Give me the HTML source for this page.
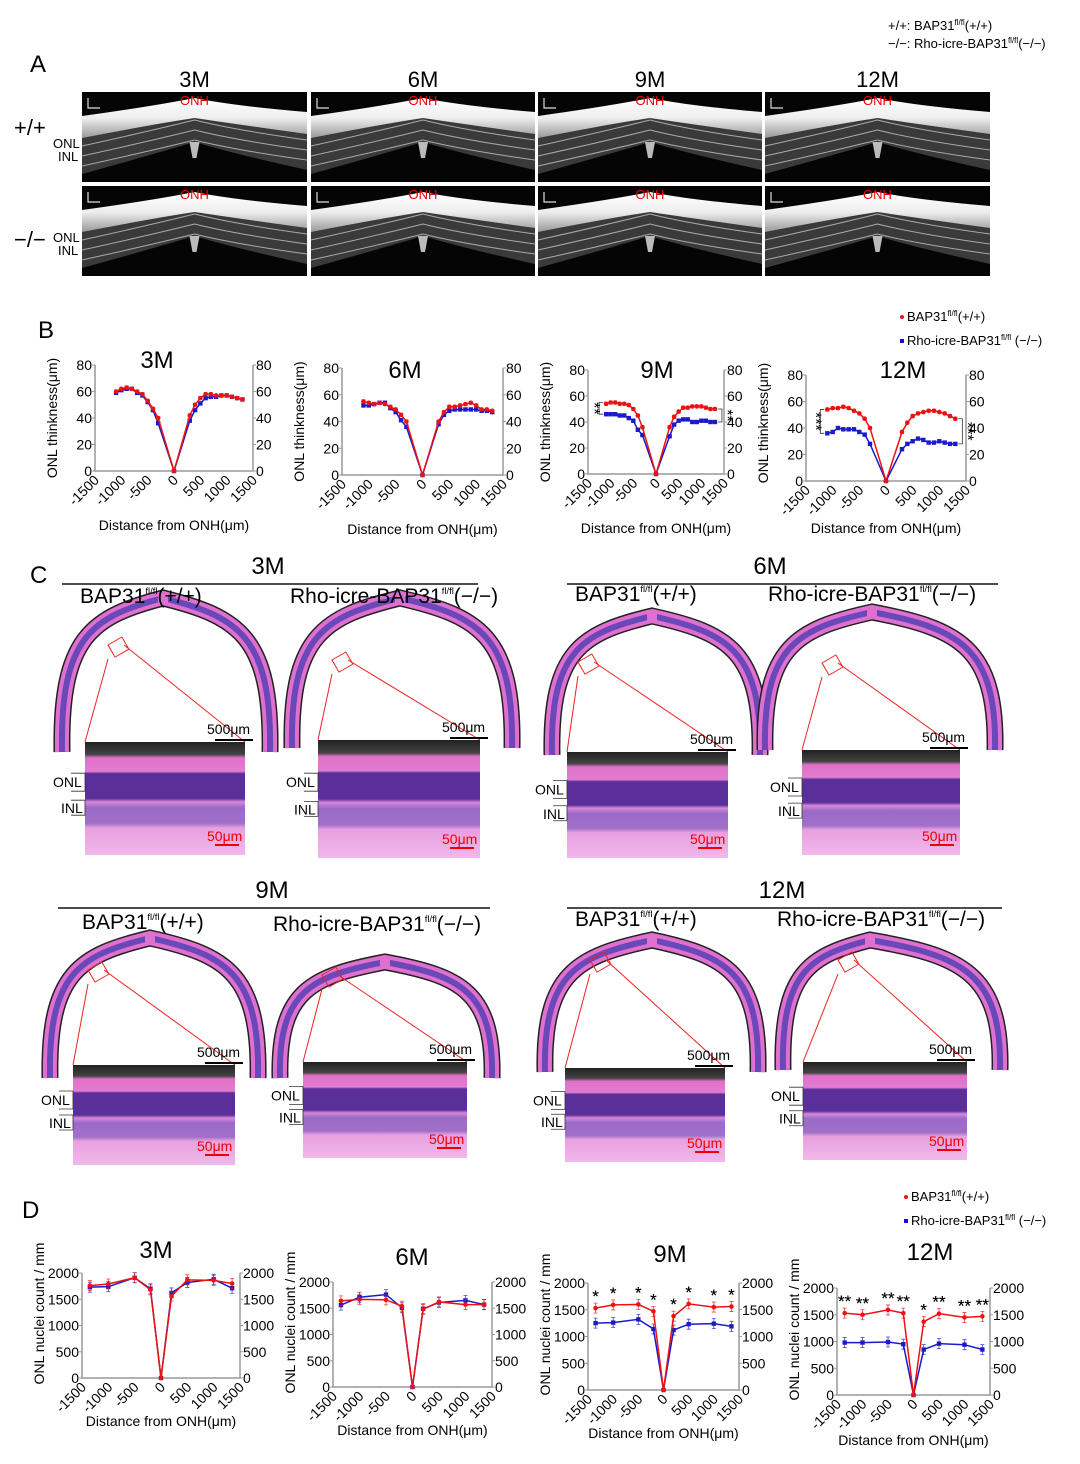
<!DOCTYPE html>
<html><head><meta charset="utf-8"><style>
html,body{margin:0;padding:0;background:#fff;}
svg{display:block;font-family:"Liberation Sans",Arial,sans-serif;}
</style></head><body>
<svg id="fig" xmlns="http://www.w3.org/2000/svg" width="1080" height="1464" viewBox="0 0 1080 1464">
<defs>
<linearGradient id="octband" x1="0" y1="0" x2="0" y2="1">
<stop offset="0" stop-color="#fff"/><stop offset="0.5" stop-color="#eee"/><stop offset="1" stop-color="#999"/></linearGradient>
<linearGradient id="inset" x1="0" y1="0" x2="0" y2="1">
<stop offset="0" stop-color="#222"/><stop offset="0.11" stop-color="#444"/><stop offset="0.14" stop-color="#e070c8"/>
<stop offset="0.26" stop-color="#e27cd0"/><stop offset="0.28" stop-color="#5a2f9a"/><stop offset="0.5" stop-color="#5a2f9a"/>
<stop offset="0.53" stop-color="#d888d8"/><stop offset="0.58" stop-color="#9a6ac8"/><stop offset="0.72" stop-color="#a070c8"/>
<stop offset="0.76" stop-color="#e8a0e0"/><stop offset="1" stop-color="#f0b8ea"/></linearGradient>
</defs>

<g font-size="13">
<text x="888" y="30">+/+: BAP31<tspan font-size="8" dy="-5">fl/fl</tspan><tspan dy="5">(+/+)</tspan></text>
<text x="888" y="48">−/−: Rho-icre-BAP31<tspan font-size="8" dy="-5">fl/fl</tspan><tspan dy="5">(−/−)</tspan></text>
</g>

<g font-size="24">
<text x="30" y="72">A</text><text x="38" y="338">B</text><text x="30" y="583">C</text><text x="22" y="1218">D</text>
</g>
<g id="panelA"></g>
<g id="panelC"></g>
<g id="panelB"></g>
<g id="panelD"></g>
</svg>
<script>
// ---------- Chart data ----------
const bX = [-1100,-1000,-900,-800,-700,-600,-500,-400,-300,0,300,400,500,600,700,800,900,1000,1100,1200,1300];
const b3Red  = [60,62,63,62,60,58,53,47,40,0,42,50,55,58,58,57,57,57,56,55,54];
const b3Blue = [59,61,62,62,59,57,52,46,36,0,38,46,51,55,56,56,57,57,56,55,54];
const b6Red  = [55,54,53,54,53,51,49,45,40,0,40,47,51,51,52,53,54,52,49,49,48];
const b6Blue = [52,52,53,54,54,50,47,41,36,0,38,45,48,49,49,49,49,49,48,48,47];
const b9Red  = [54,55,55,54,54,53,50,45,36,0,36,44,48,51,51,52,52,52,51,50,50];
const b9Blue = [46,46,46,45,45,43,41,34,30,0,29,38,41,42,42,40,40,41,41,40,40];
const b12Red = [54,55,55,56,55,53,51,47,40,0,37,44,49,51,52,53,53,52,51,49,47];
const b12Blue= [36,37,40,39,39,39,37,35,28,0,24,28,30,32,31,29,29,30,29,28,28];
const bYTicks = [0,20,40,60,80];
const xTicks = [-1500,-1000,-500,0,500,1000,1500];
const dX = [-1350,-1000,-500,-200,0,200,500,1000,1350];
const d3Red  = [1760,1790,1910,1680,0,1560,1870,1860,1800];
const d3Blue = [1730,1740,1910,1700,0,1620,1820,1880,1710];
const d6Red  = [1640,1670,1660,1540,0,1480,1620,1570,1570];
const d6Blue = [1560,1710,1760,1510,0,1490,1610,1650,1570];
const d9Red  = [1530,1590,1600,1470,0,1380,1610,1550,1560];
const d9Blue = [1250,1260,1320,1140,0,1120,1230,1240,1190];
const d12Red = [1530,1500,1590,1530,0,1370,1520,1450,1470];
const d12Blue= [980,980,990,950,0,850,960,940,850];
const dYTicks = [0,500,1000,1500,2000];
const d9Stars = ['*','*','*','*','','*','*','*','*'];
const d12Stars = ['**','**','**','**','','*','**','**','**'];

const NS='http://www.w3.org/2000/svg';
function mk(parent,tag,attrs,txt){const e=document.createElementNS(NS,tag);for(const k in attrs)e.setAttribute(k,attrs[k]);if(txt!==undefined)e.textContent=txt;parent.appendChild(e);return e;}

function chart(parent,c,xs,red,blue,yt,yTitle,title,stars){
  const g=mk(parent,'g',{});
  
  
  const ymax=yt[yt.length-1];
  const X=v=>c.l+(v+1500)/3000*(c.r-c.l);
  const Y=v=>c.y0-v/ymax*(c.y0-c.yt);
  const ax=mk(g,'path',{d:`M${c.l},${c.yt}V${c.y0}H${c.r}V${c.yt}`,fill:'none',stroke:'#999','stroke-width':1.5});
  
  
  yt.forEach(t=>{
    mk(g,'line',{x1:c.l-3,x2:c.l,y1:Y(t),y2:Y(t),stroke:'#999'});
    mk(g,'line',{x1:c.r,x2:c.r+3,y1:Y(t),y2:Y(t),stroke:'#999'});
    const a=mk(g,'text',{x:c.l-3,y:Y(t)+5,'text-anchor':'end','font-size':14},t);
    
    
    const b=mk(g,'text',{x:c.r+3,y:Y(t)+5,'font-size':14},t);
    
    
  });
  xTicks.forEach(t=>{
    const x=X(t);
    const a=mk(g,'text',{x:x+5,y:c.y0+10,'text-anchor':'end','font-size':14,transform:`rotate(-45 ${x+5} ${c.y0+10})`},t);
    
    
  });
  const xt=mk(g,'text',{x:(c.l+c.r)/2,y:c.y0+c.xtOff,'text-anchor':'middle','font-size':14},'Distance from ONH(μm)');
  
  
  const yy=(c.y0+c.yt)/2+c.ytShift;
  const ytl=mk(g,'text',{x:c.l-38,y:yy,'text-anchor':'middle','font-size':14,transform:`rotate(-90 ${c.l-38} ${yy})`},yTitle);
  
  
  const tt=mk(g,'text',{x:c.tx,y:c.ty,'text-anchor':'middle','font-size':24},title);
  
  
  [[blue,'#1a1acc','sq'],[red,'#ee1111','ci']].forEach(([vals,col,m])=>{
    const ln=mk(g,'polyline',{points:xs.map((v,i)=>X(v)+','+Y(vals[i])).join(' '),fill:'none',stroke:col,'stroke-width':1.5});
    
    
    xs.forEach((v,i)=>{
      const x=X(v),y=Y(vals[i]);
      if(vals[i]>0){
        mk(g,'path',{d:`M${x},${y-c.err}V${y+c.err}M${x-2},${y-c.err}h4M${x-2},${y+c.err}h4`,stroke:col,'stroke-width':0.8,opacity:0.8});}
      const p=m==='sq'?mk(g,'rect',{x:x-2.2,y:y-2.2,width:4.4,height:4.4,fill:col}):mk(g,'circle',{cx:x,cy:y,r:2.3,fill:col});
      
      
      if(stars&&stars[i]){const s=mk(g,'text',{x:x,y:Y(red[i])-c.err-1,'text-anchor':'middle','font-size':17},stars[i]);
        
        }
    });
  });
  return {g,X,Y};
}
function sideStars(g,x,y1,y2,txt,side){
  mk(g,'path',{d:`M${x},${y1}h${side*4}V${y2}h${-side*4}`,fill:'none',stroke:'#333','stroke-width':0.8});
  const tx=x+side*9, ty=(y1+y2)/2;
  const s=mk(g,'text',{x:tx,y:ty,'text-anchor':'middle','font-size':16,transform:`rotate(90 ${tx} ${ty})`,dy:5},txt);
  
  
}
function legend(parent,x,y){
  const g=mk(parent,'g',{'font-size':13});
  
  
  mk(g,'circle',{cx:x,cy:y-4,r:2,fill:'#e11'});
  const t1=mk(g,'text',{x:x+5,y:y});t1.innerHTML='BAP31<tspan font-size="8" dy="-5">fl/fl</tspan><tspan dy="5">(+/+)</tspan>';
  mk(g,'rect',{x:x-2,y:y+18,width:4,height:4,fill:'#11c'});
  const t2=mk(g,'text',{x:x+5,y:y+24});t2.innerHTML='Rho-icre-BAP31<tspan font-size="8" dy="-5">fl/fl</tspan><tspan dy="5"> (−/−)</tspan>';
}

const B=document.getElementById('panelB');
const yB='ONL thinkness(μm)';
chart(B,{name:'b-3m',l:95,r:253,y0:471,yt:365,tx:157,ty:368,xtOff:59,ytShift:0,err:1.5},bX,b3Red,b3Blue,bYTicks,yB,'3M');
chart(B,{name:'b-6m',l:342,r:503,y0:475,yt:368,tx:405,ty:378,xtOff:59,ytShift:0,err:1.5},bX,b6Red,b6Blue,bYTicks,yB,'6M');
const c9=chart(B,{name:'b-9m',l:588,r:724,y0:474,yt:370,tx:657,ty:378,xtOff:59,ytShift:0,err:1.5},bX,b9Red,b9Blue,bYTicks,yB,'9M');
sideStars(c9.g,c9.X(-1100)-3,c9.Y(55),c9.Y(46),'**',-1);
sideStars(c9.g,c9.X(1300)+3,c9.Y(50),c9.Y(40),'**',1);
const c12=chart(B,{name:'b-12m',l:806,r:966,y0:481,yt:375,tx:903,ty:378,xtOff:52,ytShift:-5,err:1.5},bX,b12Red,b12Blue,bYTicks,yB,'12M');
sideStars(c12.g,c12.X(-1100)-3,c12.Y(54),c12.Y(36),'***',-1);
sideStars(c12.g,c12.X(1300)+3,c12.Y(47),c12.Y(28),'***',1);
legend(B,902,321);

const D=document.getElementById('panelD');
const yD='ONL nuclei count / mm';
chart(D,{name:'d-3m',l:82,r:240,y0:1378,yt:1273,tx:156,ty:1258,xtOff:48,ytShift:-12,err:5},dX,d3Red,d3Blue,dYTicks,yD,'3M');
chart(D,{name:'d-6m',l:333,r:492,y0:1387,yt:1282,tx:412,ty:1265,xtOff:48,ytShift:-12,err:5},dX,d6Red,d6Blue,dYTicks,yD,'6M');
chart(D,{name:'d-9m',l:588,r:739,y0:1390,yt:1283,tx:670,ty:1262,xtOff:48,ytShift:-12,err:5},dX,d9Red,d9Blue,dYTicks,yD,'9M',d9Stars);
chart(D,{name:'d-12m',l:837,r:990,y0:1395,yt:1288,tx:930,ty:1260,xtOff:50,ytShift:-12,err:5},dX,d12Red,d12Blue,dYTicks,yD,'12M',d12Stars);
legend(D,906,1201);

// ---------- Panel A (OCT images) ----------
const A=document.getElementById('panelA');
const cols=[[82,307,'3M'],[311,535,'6M'],[538,762,'9M'],[765,990,'12M']];
const rows=[92,186];
cols.forEach(([x1,x2,lab],ci)=>{
  const t=mk(A,'text',{x:(x1+x2)/2,y:87,'text-anchor':'middle','font-size':22},lab);
  
  
  rows.forEach((y,ri)=>{
    const g=mk(A,'g',{});
    
    
    const w=x2-x1,h=90,cx=x1+w/2;
    mk(g,'rect',{x:x1,y:y,width:w,height:h,fill:'#050505'});
    mk(g,'path',{d:`M${x1},${y+44}Q${cx-40},${y+30} ${cx},${y+18}Q${cx+40},${y+30} ${x2},${y+40}L${x2},${y+78}Q${cx+40},${y+62} ${cx},${y+50}Q${cx-40},${y+62} ${x1},${y+82}Z`,fill:'#3a3a3a'});
    mk(g,'path',{d:`M${x1},${y+24}Q${cx-40},${y+14} ${cx},${y+6}Q${cx+40},${y+14} ${x2},${y+20}L${x2},${y+42}Q${cx+40},${y+32} ${cx},${y+26}Q${cx-40},${y+32} ${x1},${y+46}Z`,fill:'url(#octband)'});
    [54,64,74].forEach(o=>mk(g,'path',{d:`M${x1},${y+o}Q${cx-40},${y+o-16} ${cx},${y+o-26}Q${cx+40},${y+o-16} ${x2},${y+o-6}`,fill:'none',stroke:'#aaa','stroke-width':1}));
    mk(g,'path',{d:`M${cx-5},${y+50}l10,0l-3,16l-4,0z`,fill:'#bbb'});
    mk(g,'path',{d:`M${x1+6},${y+6}v10h12`,fill:'none',stroke:'#ddd','stroke-width':1.2});
    mk(g,'text',{x:cx,y:y+13,'text-anchor':'middle','font-size':13,fill:'#e00'},'ONH');
  });
});
[[14,135,'+/+'],[14,247,'−/−']].forEach(([x,y,t])=>{const e=mk(A,'text',{x,y,'font-size':22},t);
  
  });
[[148],[242]].forEach(([y])=>{mk(A,'text',{x:53,y:y,'font-size':13},'ONL');mk(A,'text',{x:58,y:y+13,'font-size':13},'INL');});

// ---------- Panel C (histology) ----------
const C=document.getElementById('panelC');
function sup(parent,x,y,pre,post,fs){const t=mk(parent,'text',{x,y,'font-size':fs});t.innerHTML=pre+'<tspan font-size="'+(fs*0.45)+'" dy="-9">fl/fl</tspan><tspan dy="9">'+post+'</tspan>';
  
  }
function section(y,groups){
  groups.forEach(gp=>{
    const t=mk(C,'text',{x:gp.tx,y:y,'text-anchor':'middle','font-size':24},gp.label);
    
    
    mk(C,'line',{x1:gp.l1,x2:gp.l2,y1:y+10,y2:y+10,stroke:'#111','stroke-width':1.5});
  });
}
function eye(e){
  const g=mk(C,'g',{});
  
  
  const sh=(e.yb-e.py);
  const d=`M${e.x1},${e.yb}C${e.x1-2},${e.yb-sh*0.75} ${e.x1+(e.px-e.x1)*0.3},${e.py+sh*0.12} ${e.px},${e.py}C${e.x2-(e.x2-e.px)*0.3},${e.py+sh*0.12} ${e.x2+2},${e.yb-sh*0.75} ${e.x2},${e.yb}`;
  mk(g,'path',{d,fill:'none',stroke:'#222','stroke-width':17});
  mk(g,'path',{d,fill:'none',stroke:'#e070d0','stroke-width':14});
  mk(g,'path',{d,fill:'none',stroke:'#6a48b8','stroke-width':6});
  mk(g,'rect',{x:e.px-5,y:e.py-6,width:10,height:12,fill:'#e070d0'});
  const bx=e.bx,by=e.by;
  mk(g,'rect',{x:bx,y:by,width:16,height:14,fill:'none',stroke:'#e22','stroke-width':1,transform:`rotate(-30 ${bx} ${by})`});
  mk(g,'line',{x1:bx,x2:e.ix,y1:by+14,y2:e.iy,stroke:'#e22','stroke-width':1});
  mk(g,'line',{x1:bx+16,x2:e.ix+e.iw,y1:by,y2:e.iy,stroke:'#e22','stroke-width':1});
  mk(g,'text',{x:e.ix+e.iw-38,y:e.iy-8,'font-size':14},'500μm');
  mk(g,'line',{x1:e.ix+e.iw-30,x2:e.ix+e.iw+8,y1:e.iy-2,y2:e.iy-2,stroke:'#000','stroke-width':2});
  const r=mk(g,'rect',{x:e.ix,y:e.iy,width:e.iw,height:e.ih,fill:'url(#inset)'});
  
  
  mk(g,'text',{x:e.ix+e.iw-38,y:e.iy+e.ih-14,'font-size':14,fill:'#e00'},'50μm');
  mk(g,'line',{x1:e.ix+e.iw-30,x2:e.ix+e.iw-6,y1:e.iy+e.ih-10,y2:e.iy+e.ih-10,stroke:'#e00','stroke-width':2});
  const oy=e.iy+e.ih*0.4, iy=e.iy+e.ih*0.63;
  mk(g,'text',{x:e.ix-32,y:oy,'font-size':14},'ONL');
  mk(g,'text',{x:e.ix-24,y:iy,'font-size':14},'INL');
  mk(g,'path',{d:`M${e.ix-14},${oy-14}h14v18h-14M${e.ix-14},${iy-13}h14v15h-14`,fill:'none',stroke:'#333','stroke-width':0.8});
}
eye({x1:62,x2:270,px:163,py:598,yb:752,bx:108,by:645,ix:85,iy:742,iw:160,ih:113});
eye({x1:292,x2:512,px:400,py:598,yb:748,bx:332,by:660,ix:318,iy:740,iw:162,ih:118});
eye({x1:552,x2:760,px:652,py:616,yb:755,bx:578,by:662,ix:567,iy:752,iw:161,ih:106});
eye({x1:765,x2:995,px:872,py:612,yb:750,bx:822,by:663,ix:802,iy:750,iw:158,ih:105});
eye({x1:50,x2:258,px:150,py:938,yb:1078,bx:88,by:970,ix:73,iy:1065,iw:162,ih:100});
eye({x1:280,x2:492,px:385,py:962,yb:1078,bx:322,by:975,ix:303,iy:1062,iw:164,ih:96});
eye({x1:545,x2:758,px:652,py:940,yb:1072,bx:590,by:960,ix:565,iy:1068,iw:160,ih:94});
eye({x1:783,x2:1000,px:870,py:940,yb:1070,bx:838,by:960,ix:803,iy:1062,iw:164,ih:98});
section(574,[{label:'3M',tx:268,l1:62,l2:478},{label:'6M',tx:770,l1:567,l2:998}]);
sup(C,80,603,'BAP31','(+/+)',21);sup(C,290,603,'Rho-icre-BAP31','(−/−)',21);
sup(C,575,601,'BAP31','(+/+)',21);sup(C,768,601,'Rho-icre-BAP31','(−/−)',21);
section(898,[{label:'9M',tx:272,l1:58,l2:490},{label:'12M',tx:782,l1:567,l2:1002}]);
sup(C,82,929,'BAP31','(+/+)',21);sup(C,273,931,'Rho-icre-BAP31','(−/−)',21);
sup(C,575,926,'BAP31','(+/+)',21);sup(C,777,926,'Rho-icre-BAP31','(−/−)',21);
</script>
</body></html>
